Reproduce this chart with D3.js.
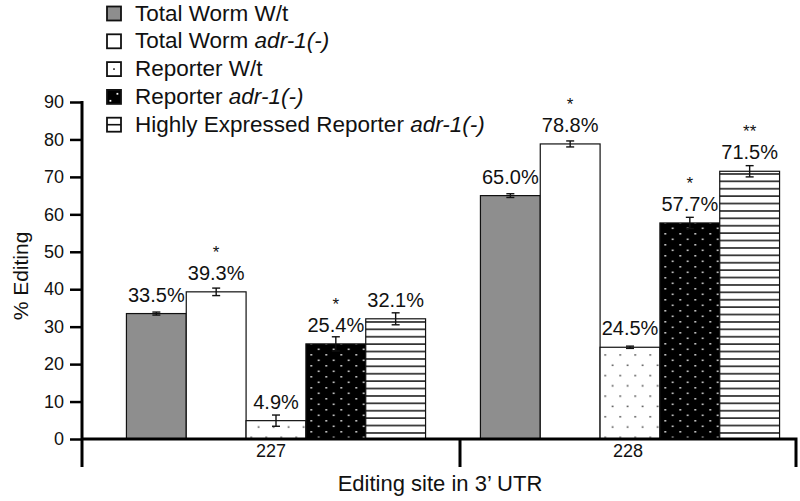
<!DOCTYPE html>
<html>
<head>
<meta charset="utf-8">
<script src="https://cdn.jsdelivr.net/npm/d3@7"></script>
<style>
  body { margin: 0; background: #fff; }
  text { font-family: "Liberation Sans", Arial, sans-serif; fill: #111; }
</style>
</head>
<body>
<div id="chart"></div>
<script>
var svgWidth = 800;
var svgHeight = 501;

// data
var sites = ["227", "228"];
var seriesKeys = ["twWt", "twAdr", "repWt", "repAdr", "hiRepAdr"];
var legendMain = ["Total Worm W/t", "Total Worm ", "Reporter W/t", "Reporter ", "Highly Expressed Reporter "];
var legendItalic = ["", "adr-1(-)", "", "adr-1(-)", "adr-1(-)"];
var totalWormWt = [33.5, 65.0];
var totalWormAdr = [39.3, 78.8];
var reporterWt = [4.9, 24.5];
var reporterAdr = [25.4, 57.7];
var highReporterAdr = [32.1, 71.5];
var errTotalWormWt = [0.4, 0.5];
var errTotalWormAdr = [1.0, 0.8];
var errReporterWt = [1.5, 0.3];
var errReporterAdr = [1.9, 1.5];
var errHighReporterAdr = [1.6, 1.5];
var starsTotalWormWt = ["", ""];
var starsTotalWormAdr = ["*", "*"];
var starsReporterWt = ["", ""];
var starsReporterAdr = ["*", "*"];
var starsHighReporterAdr = ["", "**"];
var yTicks = [0, 10, 20, 30, 40, 50, 60, 70, 80, 90];

var seriesValues = [totalWormWt, totalWormAdr, reporterWt, reporterAdr, highReporterAdr];
var seriesErrors = [errTotalWormWt, errTotalWormAdr, errReporterWt, errReporterAdr, errHighReporterAdr];
var seriesStars = [starsTotalWormWt, starsTotalWormAdr, starsReporterWt, starsReporterAdr, starsHighReporterAdr];

var rows = [];
sites.forEach(function(site, i) {
  seriesKeys.forEach(function(key, j) {
    rows.push({site: site, key: key, value: seriesValues[j][i], err: seriesErrors[j][i], stars: seriesStars[j][i]});
  });
});

var axisX = 82, axisRight = 796, axisSplit = 460, axisDrop = 467;

var svg = d3.select("#chart")
  .append("svg")
  .attr("width", svgWidth)
  .attr("height", svgHeight);

// fill patterns (staggered dots, horizontal stripes)
var defs = svg.append("defs");
var p1 = defs.append("pattern").attr("id", "dotsWhite")
  .attr("patternUnits", "userSpaceOnUse").attr("width", 15).attr("height", 20.6);
p1.append("rect").attr("width", 15).attr("height", 20.6).attr("fill", "#fff");
p1.append("rect").attr("x", 4).attr("y", 4).attr("width", 1.5).attr("height", 1.5).attr("fill", "#333");
p1.append("rect").attr("x", 11.5).attr("y", 14.3).attr("width", 1.5).attr("height", 1.5).attr("fill", "#333");

var p2 = defs.append("pattern").attr("id", "dotsBlack")
  .attr("patternUnits", "userSpaceOnUse").attr("width", 15).attr("height", 11);
p2.append("rect").attr("width", 15).attr("height", 11).attr("fill", "#000");
p2.append("rect").attr("x", 4).attr("y", 2).attr("width", 1.6).attr("height", 1.6).attr("fill", "#eee");
p2.append("rect").attr("x", 11.5).attr("y", 7.5).attr("width", 1.6).attr("height", 1.6).attr("fill", "#eee");

var p3 = defs.append("pattern").attr("id", "stripes")
  .attr("patternUnits", "userSpaceOnUse").attr("width", 10).attr("height", 7.4);
p3.append("rect").attr("width", 10).attr("height", 7.4).attr("fill", "#fff");
p3.append("rect").attr("y", 3).attr("width", 10).attr("height", 1.5).attr("fill", "#111");

var fills = {twWt: "#8e8e8e", twAdr: "#fff", repWt: "url(#dotsWhite)", repAdr: "url(#dotsBlack)", hiRepAdr: "url(#stripes)"};

// scales
var x0 = d3.scaleBand().domain(sites).range([99, 807]).paddingInner(0.155).paddingOuter(0.0775);
var x1 = d3.scaleBand().domain(seriesKeys).range([0, x0.bandwidth()]);
var y = d3.scaleLinear().domain([0, 90]).range([439, 102]);

// y axis
var yAxis = svg.append("g")
  .attr("transform", `translate(${axisX},0)`)
  .call(d3.axisLeft(y).tickValues(yTicks).tickSize(12).tickPadding(6));
yAxis.select(".domain").remove();
yAxis.selectAll(".tick line").attr("stroke", "#000").attr("stroke-width", 2.5);
yAxis.selectAll(".tick text").style("font-size", "18px").attr("fill", "#111");
svg.append("line")
  .attr("x1", axisX).attr("x2", axisX)
  .attr("y1", y(90) - 1).attr("y2", axisDrop)
  .attr("stroke", "#000").attr("stroke-width", 3);

// bars
var groups = svg.selectAll(".site")
  .data(sites)
  .enter()
  .append("g")
  .attr("transform", d => `translate(${x0(d)},0)`);

groups.selectAll("rect")
  .data(s => rows.filter(r => r.site == s))
  .enter()
  .append("rect")
  .attr("x", d => x1(d.key))
  .attr("y", d => y(d.value))
  .attr("width", x1.bandwidth())
  .attr("height", d => y(0) - y(d.value))
  .attr("fill", d => fills[d.key])
  .attr("stroke", "#111")
  .attr("stroke-width", 1.2);

// error bars
var eb = groups.selectAll(".eb")
  .data(s => rows.filter(r => r.site == s))
  .enter()
  .append("g")
  .attr("stroke", "#111")
  .attr("stroke-width", 1.4);
eb.append("line")
  .attr("x1", d => x1(d.key) + x1.bandwidth() / 2)
  .attr("x2", d => x1(d.key) + x1.bandwidth() / 2)
  .attr("y1", d => y(d.value - d.err))
  .attr("y2", d => y(d.value + d.err));
eb.append("line")
  .attr("x1", d => x1(d.key) + x1.bandwidth() / 2 - 4)
  .attr("x2", d => x1(d.key) + x1.bandwidth() / 2 + 4)
  .attr("y1", d => y(d.value + d.err))
  .attr("y2", d => y(d.value + d.err));
eb.append("line")
  .attr("x1", d => x1(d.key) + x1.bandwidth() / 2 - 4)
  .attr("x2", d => x1(d.key) + x1.bandwidth() / 2 + 4)
  .attr("y1", d => y(d.value - d.err))
  .attr("y2", d => y(d.value - d.err));

// value labels and stars
groups.selectAll(".val")
  .data(s => rows.filter(r => r.site == s))
  .enter()
  .append("text")
  .attr("x", d => x1(d.key) + x1.bandwidth() / 2)
  .attr("y", d => y(d.value) - 12)
  .attr("text-anchor", "middle")
  .style("font-size", "20px")
  .text(d => d.value.toFixed(1) + "%");

groups.selectAll(".star")
  .data(s => rows.filter(r => r.site == s && r.stars))
  .enter()
  .append("text")
  .attr("x", d => x1(d.key) + x1.bandwidth() / 2)
  .attr("y", d => y(d.value) - 34)
  .attr("text-anchor", "middle")
  .style("font-size", "17px")
  .text(d => d.stars);

// x axis
svg.append("path")
  .attr("d", `M${axisX},439H${axisRight}V${axisDrop}M${axisSplit},439V${axisDrop}`)
  .attr("fill", "none")
  .attr("stroke", "#000")
  .attr("stroke-width", 3);

var segMid = [(axisX + axisSplit) / 2, (axisSplit + axisRight) / 2];
svg.selectAll(".cat")
  .data(sites)
  .enter()
  .append("text")
  .attr("x", (d, i) => segMid[i])
  .attr("y", 457)
  .attr("text-anchor", "middle")
  .style("font-size", "18px")
  .text(d => d);

svg.append("text")
  .attr("x", 440)
  .attr("y", 491)
  .attr("text-anchor", "middle")
  .style("font-size", "22px")
  .text("Editing site in 3\u2019 UTR");

svg.append("text")
  .attr("transform", "rotate(-90)")
  .attr("x", -276)
  .attr("y", 28)
  .attr("text-anchor", "middle")
  .style("font-size", "21px")
  .text("% Editing");

// legend
var legendFills = {twWt: "#8e8e8e", twAdr: "#fff", repWt: "#fff", repAdr: "#000", hiRepAdr: "#fff"};
var legend = svg.selectAll(".legend")
  .data(seriesKeys)
  .enter()
  .append("g")
  .attr("transform", (d, i) => `translate(107,${20.5 + i * 27.8})`);
legend.append("rect")
  .attr("x", 0).attr("y", -14)
  .attr("width", 14).attr("height", 14)
  .attr("fill", d => legendFills[d])
  .attr("stroke", "#111")
  .attr("stroke-width", 1.8);
legend.filter(d => d == "repWt").append("rect")
  .attr("x", 6.2).attr("y", -7.8).attr("width", 1.6).attr("height", 1.6).attr("fill", "#111");
legend.filter(d => d == "repAdr").selectAll(".ld")
  .data([[2.5, -4], [9.5, -11]])
  .enter()
  .append("rect")
  .attr("x", p => p[0]).attr("y", p => p[1])
  .attr("width", 1.8).attr("height", 1.8).attr("fill", "#fff");
legend.filter(d => d == "hiRepAdr").append("line")
  .attr("x1", 0).attr("x2", 14).attr("y1", -7).attr("y2", -7)
  .attr("stroke", "#111").attr("stroke-width", 1.6);
var lt = legend.append("text")
  .attr("x", 28)
  .attr("y", 0)
  .style("font-size", "22.5px");
lt.append("tspan").text((d, i) => legendMain[i]);
lt.append("tspan").style("font-style", "italic").text((d, i) => legendItalic[i]);
</script>
</body>
</html>
